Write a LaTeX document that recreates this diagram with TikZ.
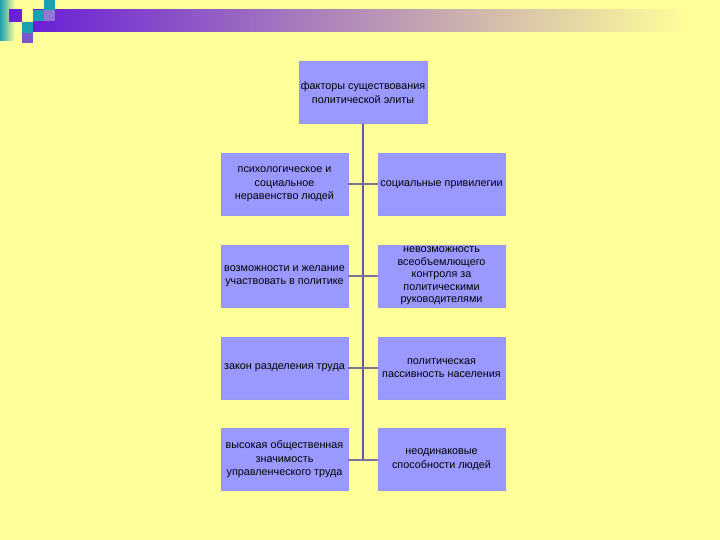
\documentclass[tikz,border=0pt]{standalone}
\usepackage{fontspec}
\setmainfont{Liberation Sans}
\usepackage{tikz}
\usetikzlibrary{positioning}

\definecolor{slidebg}{RGB}{255,255,153}
\definecolor{boxfill}{RGB}{153,153,255}
\definecolor{spinecol}{RGB}{102,85,170}
\definecolor{linkcol}{RGB}{122,114,150}
\definecolor{decoteal}{RGB}{26,160,176}
\definecolor{decoviolet}{RGB}{106,32,214}
\definecolor{decopurple}{RGB}{119,85,204}

\begin{document}
\begin{tikzpicture}[x=1pt, y=-1pt,
    factor/.style={fill=boxfill, draw=boxfill!90!gray, minimum width=127pt, minimum height=62pt,
        inner xsep=1pt, inner ysep=0pt, align=center, font=\fontsize{10.8}{13.5}\selectfont},
    spine/.style={draw=spinecol, line width=2pt},
    link/.style={draw=linkcol, line width=2pt}
]

% Slide background and title decoration
\fill[slidebg] (0,0) rectangle (720,540);
\shade[left color=decoteal, right color=slidebg] (0,0) rectangle (15,41);
\shade[left color=decoviolet, right color=slidebg] (33,10) rectangle (690,32);
\fill[decoviolet] (9,9) rectangle (22,22);
\fill[decoteal] (22,22) rectangle (33,33);
\fill[decopurple] (22,33) rectangle (33,43);
\fill[decoteal] (33,10) rectangle (44,21);
\fill[decoteal] (44,0) rectangle (55,10);
\fill[decopurple!80!white] (44,10) rectangle (55,21);

% Top box
\node[factor, minimum width=128pt] (top) at (363,92.5) {факторы существования\\политической элиты};

% Left column
\node[factor] (l1) at (284.5,184.5) {психологическое и\\социальное\\неравенство людей};
\node[factor] (l2) at (284.5,276) {возможности и желание\\участвовать в политике};
\node[factor] (l3) at (284.5,368) {закон разделения труда};
\node[factor] (l4) at (284.5,459.5) {высокая общественная\\значимость\\управленческого труда};

% Right column
\node[factor] (r1) at (441.5,184.5) {социальные привилегии};
\node[factor, font=\fontsize{10.8}{12.6}\selectfont] (r2) at (441.5,276) {невозможность\\всеобъемлющего\\контроля за\\политическими\\руководителями};
\node[factor] (r3) at (441.5,368) {политическая\\пассивность населения};
\node[factor] (r4) at (441.5,459.5) {неодинаковые\\способности людей};

% Connectors
\coordinate (spineend) at (top.south |- l4.east);
\draw[spine] (top.south) -- (spineend);
\foreach \i in {1,...,4}
    \draw[link] (l\i.east) -- (r\i.west);

\end{tikzpicture}
\end{document}
